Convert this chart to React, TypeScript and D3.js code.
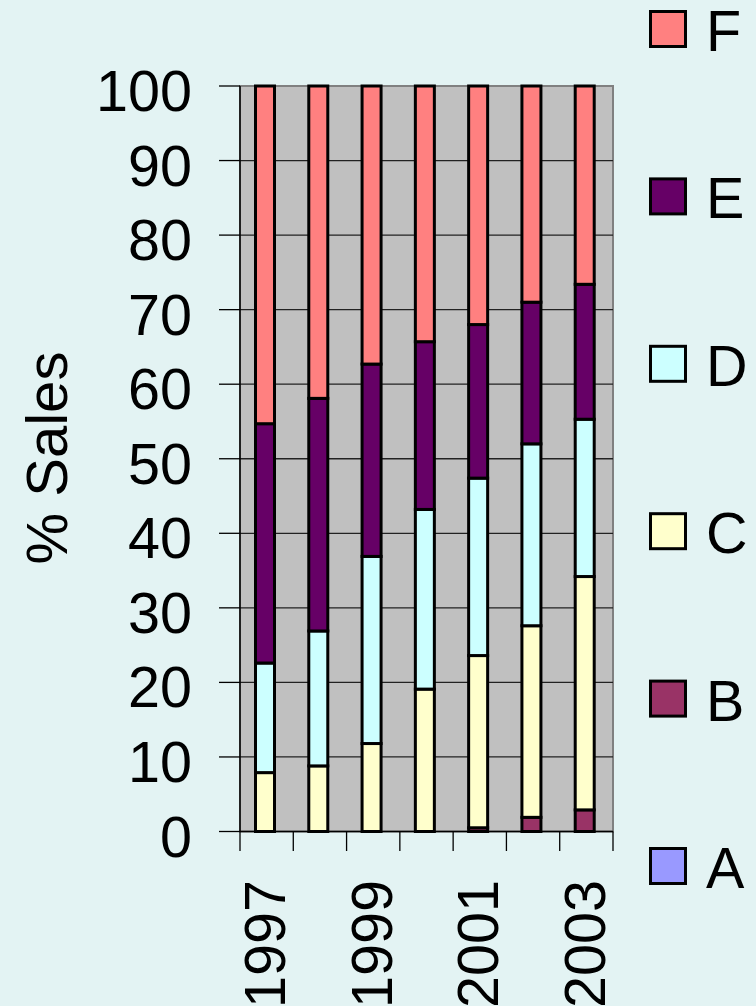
import React from "react";
import * as d3 from "d3";

const years = ["1997", "1998", "1999", "2000", "2001", "2002", "2003"];
const shownYears = ["1997", "1999", "2001", "2003"];
const seriesNames = ["A", "B", "C", "D", "E", "F"];
const seriesColors = ["#9999ff", "#993366", "#ffffcc", "#ccffff", "#660066", "#ff8080"];
const valuesA = [0, 0, 0, 0, 0, 0, 0];
const valuesB = [0, 0, 0, 0, 0.5, 1.9, 2.9];
const valuesC = [7.9, 8.8, 11.8, 19.1, 23.1, 25.7, 31.3];
const valuesD = [14.7, 18.1, 25.1, 24.1, 23.8, 24.4, 21.1];
const valuesE = [32.1, 31.2, 25.8, 22.5, 20.6, 19.0, 18.1];
const valuesF = [45.3, 41.9, 37.3, 34.3, 32.0, 29.0, 26.6];
const yTicks = [0, 10, 20, 30, 40, 50, 60, 70, 80, 90, 100];

const W = 756;
const H = 1006;
const left = 240;
const right = 613;
const top = 86;
const bottom = 831.5;
const FONT = "'Liberation Sans', Arial, sans-serif";
const FS = 57.5;

export default function App() {
  const allSeries = [valuesA, valuesB, valuesC, valuesD, valuesE, valuesF];
  const rows = years.map((y, i) => {
    const r: any = { year: y };
    seriesNames.forEach((s, k) => (r[s] = allSeries[k][i]));
    return r;
  });
  const stack = d3.stack().keys(seriesNames)(rows as any);

  const x = d3.scaleBand().domain(years).range([left, right]).padding(0);
  const y = d3.scaleLinear().domain([0, 100]).range([bottom, top]);
  const barOff = 15.5;
  const barW = 19;

  const legendY = d3.scalePoint().domain([...seriesNames].reverse()).range([29, 866]);

  const tickXs = years.map((yr) => x(yr) as number).concat([right]);

  return (
    <svg
      width={W}
      height={H}
      style={{ position: "absolute", left: 0, top: 0, display: "block" }}
      fontFamily={FONT}
    >
      <rect x={0} y={0} width={W} height={H} fill="#e3f3f3" />
      <rect x={left} y={top} width={right - left} height={bottom - top} fill="#c0c0c0" stroke="#808080" strokeWidth={2} />
      {yTicks.slice(1, -1).map((t) => (
        <line key={"g" + t} x1={left} x2={right} y1={y(t)} y2={y(t)} stroke="#222" strokeWidth={1.3} />
      ))}
      {stack.map((layer, k) =>
        layer.map((d, i) => {
          const v = d[1] - d[0];
          if (v <= 0) return null;
          return (
            <rect
              key={seriesNames[k] + i}
              x={(x(years[i]) as number) + barOff}
              width={barW}
              y={y(d[1])}
              height={y(d[0]) - y(d[1])}
              fill={seriesColors[k]}
              stroke="#000"
              strokeWidth={3}
            />
          );
        })
      )}
      <line x1={left} x2={left} y1={top} y2={bottom} stroke="#000" strokeWidth={1.5} />
      <line x1={left} x2={right} y1={bottom} y2={bottom} stroke="#000" strokeWidth={1.5} />
      {yTicks.map((t) => (
        <g key={"yt" + t}>
          <line x1={219} x2={left} y1={y(t)} y2={y(t)} stroke="#000" strokeWidth={1.3} />
          <text x={192} y={y(t) + 25} textAnchor="end" fontSize={FS} fill="#000">
            {t}
          </text>
        </g>
      ))}
      {tickXs.map((tx, i) => (
        <line key={"xt" + i} x1={tx} x2={tx} y1={bottom} y2={851} stroke="#000" strokeWidth={1.3} />
      ))}
      {shownYears.map((yr) => {
        const cx = (x(yr) as number) + barOff + barW / 2;
        return (
          <text
            key={"xl" + yr}
            transform={`translate(${cx + 20},880) rotate(-90)`}
            textAnchor="end"
            fontSize={FS}
            fill="#000"
          >
            {yr}
          </text>
        );
      })}
      <text transform={`translate(67,458) rotate(-90)`} textAnchor="middle" fontSize={58} fill="#000">
        % Sales
      </text>
      {seriesNames.map((s, k) => {
        const cy = legendY(s) as number;
        return (
          <g key={"lg" + s}>
            <rect x={650.5} y={cy - 17.5} width={35} height={35} fill={seriesColors[k]} stroke="#000" strokeWidth={3} />
            <text x={706} y={cy + 22} fontSize={FS} fill="#000">
              {s}
            </text>
          </g>
        );
      })}
    </svg>
  );
}
